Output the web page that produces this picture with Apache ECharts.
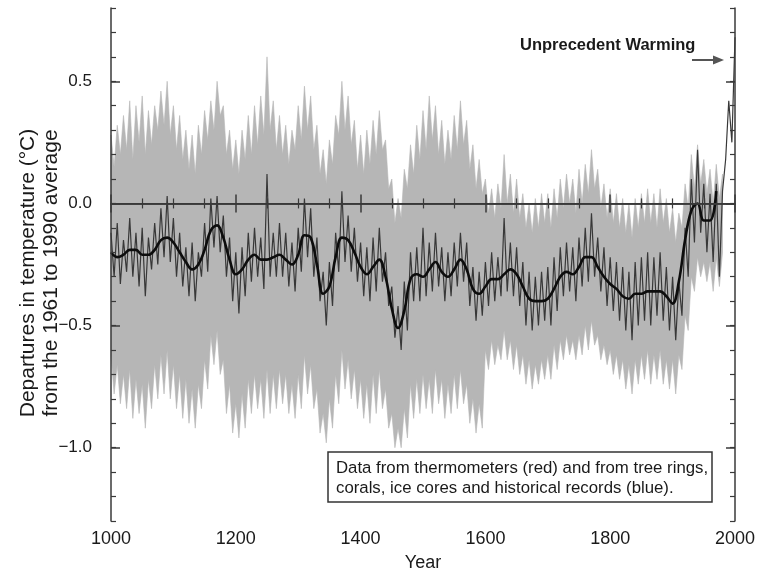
<!DOCTYPE html>
<html>
<head>
<meta charset="utf-8">
<script src="https://cdn.jsdelivr.net/npm/echarts@6/dist/echarts.min.js"></script>
<style>
html,body{margin:0;padding:0;background:#fff;}
#chart{width:765px;height:573px;}
</style>
</head>
<body>
<div id="chart"></div>
<script>
// ---- data ----
var startYear = 1000;
var step5 = 5;
var step10 = 10;

// upper edge of grey uncertainty band, 5-year steps 1000..1980
var bandUpper = [
0.28,0.15,0.32,0.20,0.36,0.22,0.42,0.18,0.40,0.25,0.44,0.20,0.38,0.24,0.40,0.30,0.46,0.32,0.50,0.28,
0.40,0.22,0.36,0.18,0.30,0.14,0.28,0.12,0.32,0.20,0.38,0.26,0.42,0.30,0.50,0.36,0.40,0.20,0.30,0.14,
0.26,0.12,0.30,0.18,0.36,0.20,0.40,0.24,0.44,0.28,0.60,0.30,0.42,0.22,0.36,0.20,0.32,0.16,0.30,0.22,
0.40,0.26,0.48,0.30,0.44,0.22,0.32,0.12,0.22,0.08,0.26,0.16,0.36,0.28,0.50,0.30,0.44,0.24,0.34,0.14,
0.28,0.12,0.30,0.16,0.34,0.20,0.38,0.22,0.26,0.06,0.10,-0.08,0.02,-0.06,0.14,0.06,0.24,0.12,0.32,0.18,
0.38,0.22,0.44,0.26,0.40,0.20,0.34,0.16,0.30,0.18,0.36,0.22,0.42,0.24,0.34,0.14,0.24,0.06,0.18,0.04,
0.10,-0.04,0.06,-0.06,0.08,-0.02,0.20,0.00,0.12,-0.04,0.10,-0.06,0.04,-0.10,0.00,-0.12,0.02,-0.10,0.04,-0.08,
0.04,-0.10,0.06,-0.06,0.10,-0.02,0.12,0.00,0.10,-0.04,0.14,0.00,0.16,0.04,0.22,0.06,0.14,-0.02,0.08,-0.06,
0.06,-0.08,0.04,-0.10,0.02,-0.12,0.00,-0.14,0.02,-0.10,0.04,-0.08,0.06,-0.08,0.04,-0.10,0.06,-0.08,0.02,-0.12,
-0.02,-0.16,-0.04,-0.10,0.08,-0.02,0.20,0.06,0.24,0.08,0.18,0.04,0.14,0.00,0.16,0.02,0.12
];

// lower edge of grey uncertainty band, 5-year steps 1000..1980
var bandLower = [
-0.62,-0.78,-0.66,-0.82,-0.70,-0.84,-0.68,-0.88,-0.72,-0.86,-0.74,-0.92,-0.72,-0.84,-0.66,-0.80,-0.62,-0.78,-0.60,-0.80,
-0.66,-0.84,-0.70,-0.88,-0.72,-0.90,-0.76,-0.92,-0.74,-0.84,-0.64,-0.76,-0.54,-0.66,-0.52,-0.70,-0.64,-0.86,-0.74,-0.94,
-0.82,-0.96,-0.78,-0.92,-0.72,-0.86,-0.70,-0.84,-0.72,-0.88,-0.68,-0.86,-0.70,-0.84,-0.68,-0.82,-0.70,-0.86,-0.74,-0.88,
-0.70,-0.84,-0.62,-0.78,-0.66,-0.84,-0.76,-0.94,-0.86,-0.98,-0.80,-0.92,-0.70,-0.82,-0.60,-0.76,-0.64,-0.80,-0.68,-0.84,
-0.72,-0.88,-0.74,-0.90,-0.70,-0.86,-0.68,-0.84,-0.76,-0.92,-0.86,-1.00,-0.92,-1.00,-0.84,-0.96,-0.74,-0.88,-0.72,-0.86,
-0.70,-0.84,-0.72,-0.86,-0.68,-0.82,-0.72,-0.88,-0.74,-0.86,-0.70,-0.84,-0.68,-0.82,-0.74,-0.90,-0.80,-0.94,-0.82,-0.92,
-0.60,-0.68,-0.56,-0.66,-0.58,-0.64,-0.52,-0.64,-0.56,-0.68,-0.58,-0.70,-0.62,-0.74,-0.64,-0.76,-0.66,-0.74,-0.64,-0.72,
-0.62,-0.72,-0.58,-0.68,-0.56,-0.64,-0.54,-0.62,-0.56,-0.64,-0.54,-0.62,-0.50,-0.60,-0.48,-0.58,-0.54,-0.64,-0.58,-0.66,
-0.60,-0.70,-0.62,-0.72,-0.64,-0.76,-0.66,-0.78,-0.64,-0.74,-0.62,-0.72,-0.60,-0.74,-0.62,-0.72,-0.60,-0.74,-0.64,-0.76,
-0.64,-0.78,-0.62,-0.68,-0.46,-0.52,-0.30,-0.36,-0.22,-0.30,-0.24,-0.32,-0.24,-0.36,-0.22,-0.34,-0.20
];

// reconstructed + thermometer series (dark line), 5-year steps 1000..2000
var reconstruction = [
-0.12,-0.30,-0.08,-0.33,-0.15,-0.28,-0.06,-0.30,-0.12,-0.34,-0.10,-0.38,-0.14,-0.27,-0.08,-0.25,-0.02,-0.22,0.03,-0.24,
-0.06,-0.30,-0.12,-0.34,-0.18,-0.38,-0.16,-0.40,-0.20,-0.30,-0.08,-0.28,0.02,-0.18,0.03,-0.20,-0.05,-0.30,-0.14,-0.40,
-0.20,-0.45,-0.18,-0.38,-0.12,-0.32,-0.10,-0.30,-0.14,-0.35,0.12,-0.30,-0.12,-0.30,-0.08,-0.30,-0.12,-0.34,-0.16,-0.36,
-0.10,-0.28,0.02,-0.22,-0.02,-0.30,-0.14,-0.40,-0.28,-0.50,-0.24,-0.42,-0.12,-0.28,0.05,-0.24,-0.05,-0.28,-0.10,-0.32,
-0.16,-0.38,-0.18,-0.40,-0.14,-0.36,-0.10,-0.32,-0.20,-0.42,-0.34,-0.55,-0.42,-0.60,-0.32,-0.52,-0.20,-0.40,-0.18,-0.40,
-0.10,-0.38,-0.16,-0.36,-0.12,-0.34,-0.18,-0.40,-0.20,-0.38,-0.16,-0.34,-0.12,-0.32,-0.16,-0.42,-0.26,-0.48,-0.28,-0.46,
-0.24,-0.42,-0.20,-0.40,-0.22,-0.38,-0.06,-0.36,-0.16,-0.38,-0.18,-0.42,-0.24,-0.50,-0.28,-0.52,-0.30,-0.50,-0.28,-0.48,
-0.26,-0.50,-0.22,-0.44,-0.18,-0.38,-0.16,-0.36,-0.18,-0.40,-0.14,-0.34,-0.10,-0.32,-0.04,-0.30,-0.14,-0.36,-0.18,-0.42,
-0.22,-0.44,-0.24,-0.48,-0.26,-0.52,-0.28,-0.56,-0.24,-0.50,-0.22,-0.48,-0.20,-0.50,-0.22,-0.46,-0.20,-0.48,-0.26,-0.52,
-0.30,-0.56,-0.32,-0.46,-0.10,-0.30,0.10,-0.16,0.22,-0.12,0.08,-0.20,0.04,-0.24,0.08,-0.30,0.05,0.18,0.42,0.25,
0.68
];

// smoothed (50-year filter) curve, 10-year steps 1000..1970
var smoothed = [
-0.20,-0.22,-0.21,-0.19,-0.19,-0.21,-0.21,-0.19,-0.15,-0.14,
-0.16,-0.20,-0.24,-0.27,-0.25,-0.19,-0.11,-0.09,-0.14,-0.23,
-0.29,-0.27,-0.23,-0.21,-0.23,-0.23,-0.22,-0.21,-0.23,-0.25,
-0.21,-0.13,-0.14,-0.25,-0.37,-0.34,-0.22,-0.14,-0.15,-0.20,
-0.26,-0.29,-0.26,-0.23,-0.30,-0.43,-0.51,-0.44,-0.31,-0.29,
-0.30,-0.27,-0.24,-0.28,-0.30,-0.27,-0.23,-0.27,-0.35,-0.37,
-0.34,-0.31,-0.31,-0.29,-0.27,-0.29,-0.34,-0.39,-0.40,-0.40,
-0.39,-0.35,-0.30,-0.28,-0.29,-0.26,-0.22,-0.22,-0.26,-0.30,
-0.33,-0.35,-0.38,-0.39,-0.37,-0.37,-0.36,-0.36,-0.36,-0.38,
-0.41,-0.32,-0.15,-0.03,0.00,-0.07,-0.07,0.05
];

var xTickLabels = [1000, 1200, 1400, 1600, 1800, 2000];
var yTickLabels = [-1.0, -0.5, 0.0, 0.5];

// ---- build series data ----
function yearsFor(n, step) { var a = []; for (var i = 0; i < n; i++) a.push(startYear + i * step); return a; }
var y5band = yearsFor(bandUpper.length, step5);
var y5rec = yearsFor(reconstruction.length, step5);
var y10 = yearsFor(smoothed.length, step10);

var bandRows = bandUpper.map(function (v, i) { return [y5band[i], v, bandLower[i]]; });
var recData = reconstruction.map(function (v, i) { return [y5rec[i], v]; });
var smoothData = smoothed.map(function (v, i) { return [y10[i], v]; });

var FONT = '"Liberation Sans", Arial, Helvetica, sans-serif';
var lineCol = '#3a3a3a';
var txtCol = '#1a1a1a';
var bandCol = '#b6b6b6';

function fmt(v) {
  var s = Math.abs(v).toFixed(1);
  return (v < -1e-9 ? '\u2212' : '') + s;
}

function renderBand(params, api) {
  if (params.dataIndex !== 0) return null;
  var pts = [], i;
  for (i = 0; i < bandRows.length; i++) pts.push(api.coord([bandRows[i][0], bandRows[i][1]]));
  for (i = bandRows.length - 1; i >= 0; i--) pts.push(api.coord([bandRows[i][0], bandRows[i][2]]));
  return { type: 'polygon', shape: { points: pts }, style: { fill: bandCol, stroke: bandCol, lineWidth: 0.6 }, silent: true };
}

var commonY = { type: 'value', min: -1.3, max: 0.8, gridIndex: 0, z: 10, splitLine: { show: false } };

var chart = echarts.init(document.getElementById('chart'), null, { renderer: 'canvas' });
chart.setOption({
  animation: false,
  backgroundColor: '#fff',
  textStyle: { fontFamily: FONT },
  grid: { left: 111, right: 30, top: 8, bottom: 52, show: false, containLabel: false, outerBoundsMode: 'none' },
  xAxis: [
    {
      type: 'value', min: 1000, max: 2000, interval: 200, position: 'bottom', z: 10,
      axisLine: { show: true, lineStyle: { color: lineCol, width: 1.5 } },
      axisTick: { show: true, inside: true, length: 9, lineStyle: { color: lineCol, width: 1.5 } },
      minorTick: { show: true, splitNumber: 4, length: 5, lineStyle: { color: lineCol, width: 1.2 } },
      axisLabel: { show: true, fontSize: 18, color: txtCol, margin: 9, fontFamily: FONT,
        customValues: xTickLabels, formatter: function (v) { return String(v); } },
      splitLine: { show: false },
      name: 'Year', nameLocation: 'middle', nameGap: 33,
      nameTextStyle: { fontSize: 18, color: txtCol, fontFamily: FONT }
    },
    {
      type: 'value', min: 1000, max: 2000, interval: 200, position: 'top', z: 10,
      axisLine: { show: true, lineStyle: { color: lineCol, width: 1.5 } },
      axisTick: { show: true, inside: true, length: 9, lineStyle: { color: lineCol, width: 1.5 } },
      minorTick: { show: true, splitNumber: 4, length: 5, lineStyle: { color: lineCol, width: 1.2 } },
      axisLabel: { show: false },
      splitLine: { show: false }
    }
  ],
  yAxis: [
    Object.assign({}, commonY, {
      position: 'left', interval: 0.1,
      axisLine: { show: true, lineStyle: { color: lineCol, width: 1.5 } },
      axisTick: { show: true, inside: true, length: 5, lineStyle: { color: lineCol, width: 1.2 } },
      axisLabel: { show: true, fontSize: 17, color: txtCol, margin: 19, fontFamily: FONT,
        customValues: yTickLabels, formatter: fmt }
    }),
    Object.assign({}, commonY, {
      position: 'left', interval: 0.1,
      axisLine: { show: false },
      axisTick: { show: true, inside: true, length: 9, customValues: yTickLabels, lineStyle: { color: lineCol, width: 1.5 } },
      axisLabel: { show: false }
    }),
    Object.assign({}, commonY, {
      position: 'right', interval: 0.1,
      axisLine: { show: true, lineStyle: { color: lineCol, width: 1.5 } },
      axisTick: { show: true, inside: true, length: 5, lineStyle: { color: lineCol, width: 1.2 } },
      axisLabel: { show: false }
    }),
    Object.assign({}, commonY, {
      position: 'right', interval: 0.1,
      axisLine: { show: false },
      axisTick: { show: true, inside: true, length: 9, customValues: yTickLabels, lineStyle: { color: lineCol, width: 1.5 } },
      axisLabel: { show: false }
    })
  ],
  series: [
    {
      name: 'band', type: 'custom', xAxisIndex: 0, yAxisIndex: 0,
      data: bandRows, encode: { x: 0, y: [1, 2] },
      renderItem: renderBand, silent: true, z: 1
    },
    {
      name: 'reconstruction', type: 'line', xAxisIndex: 0, yAxisIndex: 0,
      data: recData, symbol: 'none',
      lineStyle: { color: '#383838', width: 1.2 }, z: 3,
      markLine: {
        silent: true, symbol: 'none', label: { show: false },
        lineStyle: { color: '#3c3c3c', width: 1.2, type: 'solid' },
        data: [{ yAxis: 0 }]
      }
    },
    {
      name: 'smoothed', type: 'line', xAxisIndex: 0, yAxisIndex: 0,
      data: smoothData, symbol: 'none', smooth: 0.4,
      lineStyle: { color: '#0d0d0d', width: 2.6 }, z: 4
    }
  ],
  graphic: [
    { type: 'text', silent: true,
      x: 28, y: 273, rotation: Math.PI / 2,
      style: { text: 'Departures in temperature (\u00B0C)', fontSize: 21, fontFamily: FONT, fill: txtCol,
        textAlign: 'center', textVerticalAlign: 'middle' } },
    { type: 'text', silent: true,
      x: 51, y: 273, rotation: Math.PI / 2,
      style: { text: 'from the 1961 to 1990 average', fontSize: 21, fontFamily: FONT, fill: txtCol,
        textAlign: 'center', textVerticalAlign: 'middle' } },
    { type: 'text', silent: true, x: 520, y: 45, z: 20,
      style: { text: 'Unprecedent Warming', fontSize: 16.5, fontWeight: 'bold', fontFamily: FONT, fill: txtCol,
        textAlign: 'left', textVerticalAlign: 'middle' } },
    { type: 'line', silent: true, z: 20,
      shape: { x1: 692, y1: 60, x2: 716, y2: 60 },
      style: { stroke: '#555', lineWidth: 2 } },
    { type: 'polygon', silent: true, z: 20,
      shape: { points: [[713, 55.5], [724, 60], [713, 64.5]] },
      style: { fill: '#555' } },
    { type: 'rect', silent: true, z: 20,
      shape: { x: 328, y: 452, width: 384, height: 50 },
      style: { fill: '#fff', stroke: '#333', lineWidth: 1.5 } },
    { type: 'text', silent: true, z: 21, x: 336, y: 468,
      style: { text: 'Data from thermometers (red) and from tree rings,', fontSize: 16.8, fontFamily: FONT, fill: txtCol,
        textAlign: 'left', textVerticalAlign: 'middle' } },
    { type: 'text', silent: true, z: 21, x: 336, y: 488,
      style: { text: 'corals, ice cores and historical records (blue).', fontSize: 16.8, fontFamily: FONT, fill: txtCol,
        textAlign: 'left', textVerticalAlign: 'middle' } }
  ]
});
</script>
</body>
</html>
